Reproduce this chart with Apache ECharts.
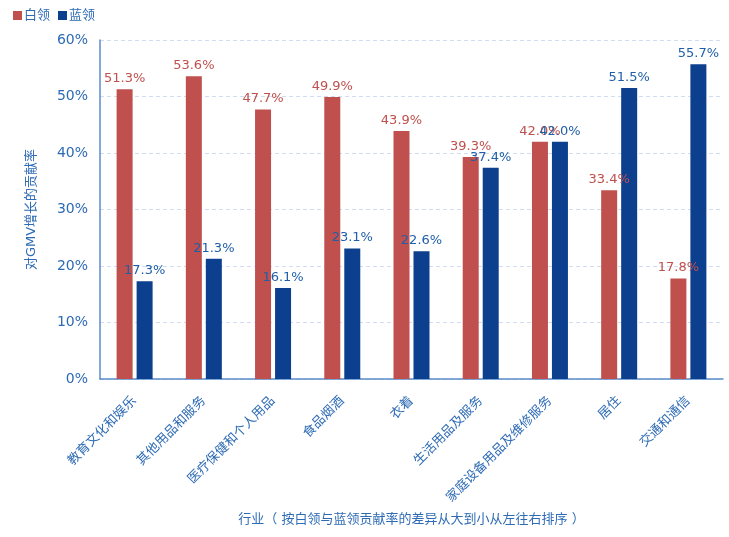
<!DOCTYPE html>
<html><head><meta charset="utf-8">
<script src="https://cdn.jsdelivr.net/npm/echarts@6/dist/echarts.min.js"></script>
<style>html,body{margin:0;padding:0;background:#fff}#c{width:729px;height:537px}</style>
</head><body><div id="c"></div>
<script>
const categories = ['教育文化和娱乐','其他用品和服务','医疗保健和个人用品','食品烟酒','衣着','生活用品及服务','家庭设备用品及维修服务','居住','交通和通信'];
const whiteCollar = [51.3, 53.6, 47.7, 49.9, 43.9, 39.3, 42.0, 33.4, 17.8];
const blueCollar = [17.3, 21.3, 16.1, 23.1, 22.6, 37.4, 42.0, 51.5, 55.7];
const yTicks = [0, 10, 20, 30, 40, 50, 60];

const FONT = '"DejaVu Sans","Noto Sans CJK SC",sans-serif';
const AXC = '#2e6bb5';
const RED = '#c0504d';
const BLUE = '#0d3f8f';
const chart = echarts.init(document.getElementById('c'));
chart.setOption({
  animation: false,
  textStyle: {fontFamily: FONT},
  legend: {
    left: 8, top: 4, itemWidth: 9, itemHeight: 9, itemGap: 8,
    icon: 'rect',
    textStyle: {color: AXC, fontSize: 13, fontFamily: FONT, padding: [0,0,0,-3]},
    data: ['白领','蓝领']
  },
  grid: {left: 100, right: 6, top: 40, bottom: 158, containLabel: false},
  xAxis: {
    type: 'category', data: categories,
    name: '行业（ 按白领与蓝领贡献率的差异从大到小从左往右排序 ）',
    nameLocation: 'middle', nameGap: 134,
    nameTextStyle: {color: AXC, fontSize: 13, fontFamily: FONT},
    axisLine: {lineStyle: {color: '#5a8ccc', width: 1.5}},
    axisTick: {show: false},
    axisLabel: {rotate: 45, color: AXC, fontSize: 13, margin: 20, interval: 0, fontFamily: FONT}
  },
  yAxis: {
    type: 'value', min: 0, max: 60, interval: 10,
    name: '对GMV增长的贡献率', nameLocation: 'middle', nameGap: 62, nameRotate: 90,
    nameTextStyle: {color: AXC, fontSize: 13, fontFamily: FONT},
    axisLine: {show: true, lineStyle: {color: '#5a8ccc', width: 1.5}},
    axisTick: {show: false},
    axisLabel: {color: AXC, fontSize: 14, margin: 12, fontFamily: FONT,
      formatter: v => yTicks.includes(v) ? v + '%' : ''},
    splitLine: {lineStyle: {color: '#d0ddf0', type: [4, 3]}}
  },
  series: [
    {name: '白领', type: 'bar', data: whiteCollar, barWidth: 16, barGap: '25%',
     itemStyle: {color: RED},
     label: {show: true, position: 'top', color: RED, fontSize: 13, distance: 4, formatter: p => p.value.toFixed(1) + '%'}},
    {name: '蓝领', type: 'bar', data: blueCollar, barWidth: 16,
     itemStyle: {color: BLUE},
     label: {show: true, position: 'top', color: '#1f5fa8', fontSize: 13, distance: 4, formatter: p => p.value.toFixed(1) + '%'}}
  ]
});
</script></body></html>
